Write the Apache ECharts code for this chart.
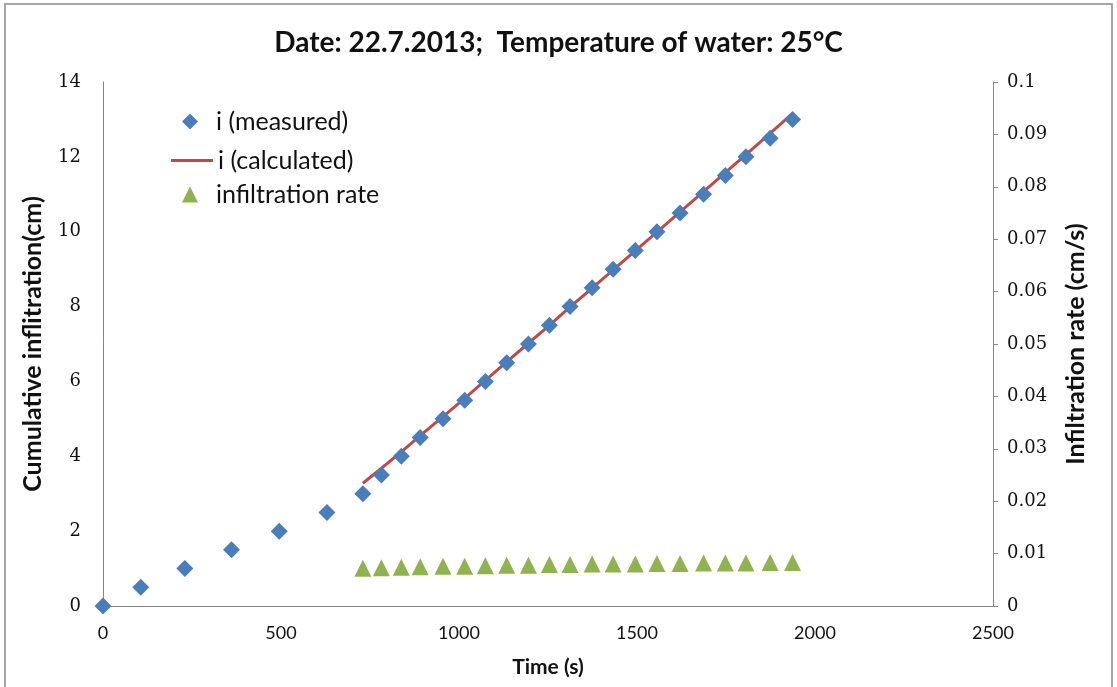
<!DOCTYPE html>
<html>
<head>
<meta charset="utf-8">
<script src="https://cdn.jsdelivr.net/npm/echarts@6/dist/echarts.min.js"></script>
<style>
  html, body { margin: 0; padding: 0; background: #ffffff; }
  #chart { width: 1117px; height: 687px; }
</style>
</head>
<body>
<div id="chart"></div>
<script>
// Elapsed time of each reading (s)
const timeSec = [0, 106, 230, 361, 495, 629, 730, 782, 838, 891, 955, 1016, 1074, 1134,
  1195, 1254, 1312, 1374, 1433, 1495, 1556, 1621, 1687, 1748, 1806, 1874, 1937];
// Measured cumulative infiltration (cm)
const measuredCm = [0, 0.5, 1, 1.5, 2, 2.5, 3, 3.5, 4, 4.5, 5, 5.5, 6, 6.5,
  7, 7.5, 8, 8.5, 9, 9.5, 10, 10.5, 11, 11.5, 12, 12.5, 13];
// Times used for the fitted curve and the rate (from 730 s onward)
const fitTimeSec = [730, 782, 838, 891, 955, 1016, 1074, 1134, 1195, 1254, 1312,
  1374, 1433, 1495, 1556, 1621, 1687, 1748, 1806, 1874, 1937];
// Calculated cumulative infiltration (cm)
const calculatedCm = [3.28, 3.68, 4.12, 4.55, 5.06, 5.55, 6.03, 6.52, 7.02, 7.5, 7.99,
  8.49, 8.98, 9.49, 9.99, 10.53, 11.07, 11.58, 12.06, 12.63, 13.16];
// Infiltration rate (cm/s)
const rateCmS = [0.0072, 0.0073, 0.0074, 0.0075, 0.0076, 0.0076, 0.0077, 0.0078, 0.0078,
  0.0079, 0.0079, 0.0080, 0.0080, 0.0080, 0.0081, 0.0081, 0.0082, 0.0082, 0.0082, 0.0083, 0.0083];

const zip = (xs, ys) => xs.map((x, i) => [x, ys[i]]);

const sans = 'Lato, "Open Sans", sans-serif';
const serif = '"DejaVu Serif", serif';
const axisGray = '#868686';
const ink = '#111111';

const chart = echarts.init(document.getElementById('chart'), null, { renderer: 'canvas' });

chart.setOption({
  backgroundColor: '#ffffff',
  animation: false,
  graphic: [{
    type: 'rect',
    shape: { x: 5, y: 4, width: 1107, height: 720 },
    style: { fill: 'none', stroke: '#a6a6a6', lineWidth: 2 },
    silent: true
  }],
  title: {
    text: 'Date: 22.7.2013;  Temperature of water: 25°C',
    left: 'center',
    top: 24,
    textStyle: { fontFamily: sans, fontSize: 28, fontWeight: 'bold', color: ink }
  },
  legend: [
    {
      data: ['i (measured)'], left: 177, top: 104, orient: 'vertical',
      itemWidth: 16, itemHeight: 16,
      textStyle: { fontFamily: sans, fontSize: 25, color: ink, padding: [0, 0, 0, 13] }
    },
    {
      data: [{ name: 'i (calculated)', icon: 'rect' }], left: 166, top: 143, orient: 'vertical',
      itemWidth: 42, itemHeight: 3,
      textStyle: { fontFamily: sans, fontSize: 25, color: ink, padding: [0, 0, 0, 0] }
    },
    {
      data: ['infiltration rate'], left: 177, top: 177, orient: 'vertical',
      itemWidth: 16, itemHeight: 16,
      textStyle: { fontFamily: sans, fontSize: 25, color: ink, padding: [0, 0, 0, 13] }
    }
  ],
  grid: { left: 103, right: 124, top: 82, bottom: 81, containLabel: false },
  xAxis: {
    type: 'value', min: 0, max: 2500, interval: 500,
    name: 'Time (s)', nameLocation: 'middle', nameGap: 51,
    nameTextStyle: { fontFamily: sans, fontSize: 21, fontWeight: 'bold', color: ink },
    axisLine: { show: true, lineStyle: { color: axisGray, width: 1 } },
    axisTick: { show: false },
    splitLine: { show: false },
    axisLabel: { fontFamily: sans, fontSize: 18, color: ink, margin: 18, formatter: v => String(v) }
  },
  yAxis: [
    {
      type: 'value', min: 0, max: 14, interval: 2, position: 'left',
      name: 'Cumulative inflitration(cm)', nameLocation: 'middle', nameGap: 58,
      nameTextStyle: { fontFamily: sans, fontSize: 25, fontWeight: 'bold', color: ink },
      axisLine: { show: true, lineStyle: { color: axisGray, width: 1 } },
      axisTick: { show: false },
      splitLine: { show: false },
      axisLabel: { fontFamily: serif, fontSize: 18, color: ink, margin: 22 }
    },
    {
      type: 'value', min: 0, max: 0.1, interval: 0.01, position: 'right',
      name: 'Infiltration rate (cm/s)', nameLocation: 'middle', nameGap: 70,
      nameRotate: 90,
      nameTextStyle: { fontFamily: sans, fontSize: 25, fontWeight: 'bold', color: ink },
      axisLine: { show: true, lineStyle: { color: axisGray, width: 1 } },
      axisTick: { show: true, inside: false, length: 5, lineStyle: { color: axisGray } },
      splitLine: { show: false },
      axisLabel: {
        fontFamily: serif, fontSize: 18, color: ink, margin: 14,
        formatter: v => String(+v.toFixed(2))
      }
    }
  ],
  series: [
    {
      name: 'i (calculated)', type: 'line', yAxisIndex: 0,
      data: zip(fitTimeSec, calculatedCm),
      showSymbol: false, symbol: 'none',
      lineStyle: { color: '#BE4B48', width: 3 },
      itemStyle: { color: '#BE4B48' },
      z: 2
    },
    {
      name: 'i (measured)', type: 'scatter', yAxisIndex: 0,
      data: zip(timeSec, measuredCm),
      symbol: 'diamond', symbolSize: 17,
      itemStyle: { color: '#4A7EBB', opacity: 1 },
      z: 3
    },
    {
      name: 'infiltration rate', type: 'scatter', yAxisIndex: 1,
      data: zip(fitTimeSec, rateCmS),
      symbol: 'triangle', symbolSize: 17,
      itemStyle: { color: '#8FB34F', opacity: 1 },
      z: 3
    }
  ]
});
</script>
</body>
</html>
